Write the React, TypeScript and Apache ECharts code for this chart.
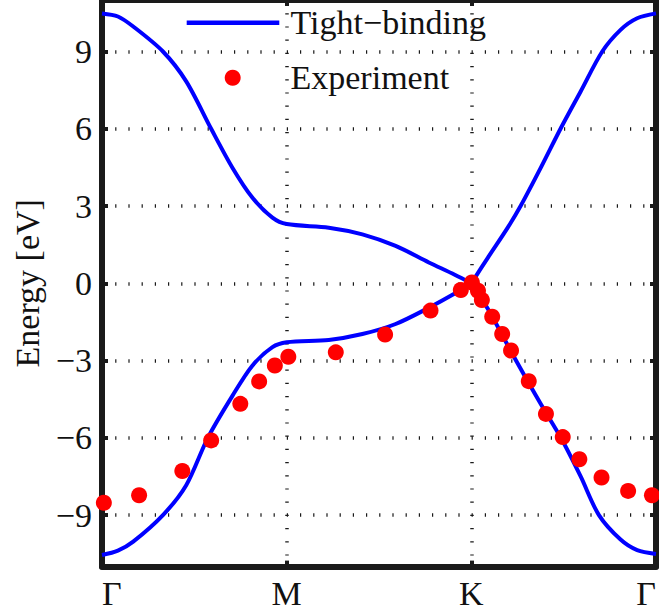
import React, { useEffect, useRef } from "react";
import * as echarts from "echarts";

// k-path positions (Γ = 0, M = 1, K = 2, Γ = 3) and tick labels
const kTicks = [0, 1, 2, 3];
const kLabels = ["Γ", "M", "K", "Γ"];
const energyTicks = [-9, -6, -3, 0, 3, 6, 9];

// Tight-binding conduction (upper) band
const kUpper = [0, 0.086, 0.169, 0.33, 0.456, 0.591, 0.707, 0.815, 0.923, 1.0, 1.228, 1.41, 1.59, 1.77, 1.91, 2.0, 2.09, 2.197, 2.269, 2.377, 2.485, 2.592, 2.709, 2.808, 2.898, 3.0];
const eUpper = [10.48, 10.36, 9.97, 9.0, 7.84, 6.0, 4.48, 3.32, 2.55, 2.3, 2.16, 1.9, 1.45, 0.81, 0.33, 0.0, 1.0, 2.16, 3.03, 4.5, 6.03, 7.45, 9.0, 9.84, 10.29, 10.48];

// Tight-binding valence (lower) band
const kLower = [0, 0.086, 0.169, 0.33, 0.456, 0.573, 0.707, 0.815, 0.923, 1.0, 1.228, 1.41, 1.59, 1.77, 1.91, 2.0, 2.09, 2.242, 2.377, 2.485, 2.592, 2.691, 2.808, 2.898, 3.0];
const eLower = [-10.55, -10.38, -10.03, -9.0, -7.84, -6.0, -4.36, -3.19, -2.48, -2.29, -2.2, -1.97, -1.58, -0.95, -0.4, 0.0, -1.0, -3.0, -4.7, -6.0, -7.5, -9.0, -9.95, -10.36, -10.51];

// Experimental points
const kExp = [0.01, 0.201, 0.435, 0.591, 0.749, 0.851, 0.936, 1.009, 1.266, 1.533, 1.779, 1.943, 2.003, 2.036, 2.057, 2.113, 2.167, 2.215, 2.311, 2.404, 2.495, 2.585, 2.705, 2.849, 2.978];
const eExp = [-8.52, -8.23, -7.29, -6.1, -4.68, -3.81, -3.19, -2.85, -2.68, -1.99, -1.06, -0.26, 0.03, -0.29, -0.65, -1.3, -1.97, -2.61, -3.8, -5.07, -5.97, -6.83, -7.54, -8.06, -8.23];

const FONT = "Liberation Serif";
const TEXT = "#111";
const AXIS = "#1a1a1a";
const FS = 34;

export default function App() {
  const ref = useRef<HTMLDivElement>(null);

  useEffect(() => {
    if (!ref.current) return;
    const chart = echarts.init(ref.current, null, { renderer: "svg" });
    const gridStyle = { type: [1.2, 12], width: 3.5, color: "#1a1a1a" };
    const frameLine = { show: true, onZero: false, lineStyle: { color: AXIS, width: 6 } };
    const tick = { show: true, inside: true, length: 6, lineStyle: { color: AXIS, width: 4 } };
    const minus = (v: number) => String(v).replace("-", "\u2212");

    // split each band at K so the Dirac-point kink stays sharp
    const pairs = (ks: number[], es: number[]) => ks.map((k, i) => [k, es[i]]);
    const up = pairs(kUpper, eUpper);
    const lo = pairs(kLower, eLower);
    const iu = kUpper.indexOf(2);
    const il = kLower.indexOf(2);
    const bandPieces = [up.slice(0, iu + 1), up.slice(iu), lo.slice(0, il + 1), lo.slice(il)];

    const lineSeries = bandPieces.map((d) => ({
      name: "Tight\u2212binding",
      type: "line",
      data: d,
      showSymbol: false,
      smooth: 0.3,
      lineStyle: { color: "#0000ff", width: 4 },
      z: 3,
    }));

    chart.setOption({
      animation: false,
      grid: { left: 102, right: 0, top: -1.6, bottom: 49.4, containLabel: false },
      xAxis: [
        {
          type: "value",
          min: 0,
          max: 3,
          interval: 1,
          position: "bottom",
          axisLine: frameLine,
          axisTick: tick,
          axisLabel: {
            formatter: (v: number) => kLabels[kTicks.indexOf(v)] ?? "",
            fontFamily: FONT,
            fontSize: FS,
            color: TEXT,
            margin: 10,
            alignMinLabel: "left",
            alignMaxLabel: "right",
          },
          splitLine: { show: true, lineStyle: gridStyle },
        },
        {
          type: "value",
          min: 0,
          max: 3,
          interval: 1,
          position: "top",
          axisLine: frameLine,
          axisTick: tick,
          axisLabel: { show: false },
          splitLine: { show: false },
        },
      ],
      yAxis: [
        {
          type: "value",
          min: -11,
          max: 11,
          position: "left",
          name: "Energy [eV]",
          nameLocation: "middle",
          nameRotate: 90,
          nameGap: 57,
          nameTextStyle: { fontFamily: FONT, fontSize: FS, color: TEXT },
          axisLine: frameLine,
          axisTick: { ...tick, customValues: energyTicks },
          axisLabel: {
            customValues: energyTicks,
            formatter: minus,
            fontFamily: FONT,
            fontSize: FS,
            color: TEXT,
            margin: 10,
          },
          splitLine: { show: true, lineStyle: gridStyle },
        },
        {
          type: "value",
          min: -11,
          max: 11,
          position: "right",
          axisLine: frameLine,
          axisTick: { ...tick, customValues: energyTicks },
          axisLabel: { show: false },
          splitLine: { show: false },
        },
      ],
      series: [
        ...lineSeries,
        {
          name: "Experiment",
          type: "scatter",
          data: pairs(kExp, eExp),
          symbol: "circle",
          symbolSize: 16,
          itemStyle: { color: "#ff0000", opacity: 1 },
          z: 4,
        },
      ],
      graphic: [
        {
          type: "line",
          shape: { x1: 186.7, y1: 22.7, x2: 279.3, y2: 22.7 },
          style: { stroke: "#0000ff", lineWidth: 4.5 },
          z: 10,
        },
        {
          type: "circle",
          shape: { cx: 232.7, cy: 77.7, r: 8 },
          style: { fill: "#ff0000" },
          z: 10,
        },
        {
          type: "text",
          x: 290.5,
          y: 22.8,
          style: {
            text: "Tight\u2212binding",
            font: `${FS}px "${FONT}"`,
            fill: TEXT,
            align: "left",
            verticalAlign: "middle",
          },
          z: 10,
        },
        {
          type: "text",
          x: 290.5,
          y: 77.5,
          style: {
            text: "Experiment",
            font: `${FS}px "${FONT}"`,
            fill: TEXT,
            align: "left",
            verticalAlign: "middle",
          },
          z: 10,
        },
      ],
    });

    return () => chart.dispose();
  }, []);

  return (
    <div
      ref={ref}
      style={{ position: "absolute", left: 0, top: 0, width: 659, height: 616, background: "#fff" }}
    />
  );
}
